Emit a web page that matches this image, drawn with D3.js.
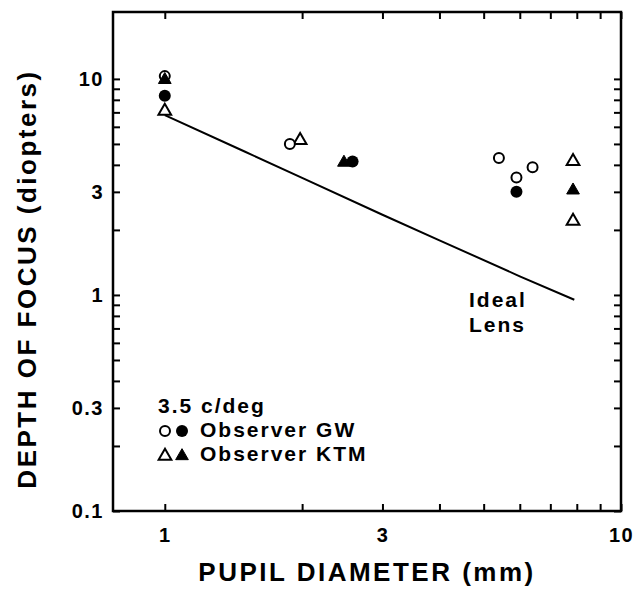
<!DOCTYPE html>
<html>
<head>
<meta charset="utf-8">
<script src="https://cdn.jsdelivr.net/npm/d3@7"></script>
<style>
  html, body { margin: 0; padding: 0; background: #fff; }
  svg { display: block; font-family: "Liberation Sans", Arial, Helvetica, sans-serif; }
  .tick line { stroke: #000; stroke-width: 2; }
  .tick text { font-size: 20px; font-weight: bold; fill: #000; letter-spacing: 1.5px; }
</style>
</head>
<body>
<div id="chart"></div>
<script>
// values (pupil diameter in mm, depth of focus in diopters)
const gwOpenX = [1.0, 1.88, 5.4, 5.9, 6.4]
const gwOpenY = [10.3, 5.0, 4.3, 3.5, 3.9]
const gwFilledX = [1.0, 2.58, 5.9]
const gwFilledY = [8.35, 4.15, 3.0]
const ktmOpenX = [1.0, 1.98, 7.85, 7.85]
const ktmOpenY = [7.1, 5.2, 4.15, 2.2]
const ktmFilledX = [1.0, 2.47, 7.85]
const ktmFilledY = [9.9, 4.1, 3.05]
const lensX = [1.0, 1.5, 2, 3, 4, 6, 7.9]
const lensY = [6.8, 4.6, 3.48, 2.35, 1.79, 1.22, 0.95]

const xTickLabels = [1, 3, 10]
const yTickLabels = [0.1, 0.3, 1, 3, 10]
const legendTitle = '3.5 c/deg'
const legendNames = ['Observer GW', 'Observer KTM']

const width = 639
const height = 591
const plotLeft = 113, plotRight = 621, plotTop = 12, plotBottom = 511

const svg = d3.select('#chart').append('svg')
  .attr('width', width)
  .attr('height', height)

const x = d3.scaleLog().domain([0.77, 10]).range([plotLeft, plotRight])
const y = d3.scaleLog().domain([0.1, 20.4]).range([plotBottom, plotTop])

const xTicks = x.ticks().filter(d => d >= 1 && d <= 10)
const yTicks = y.ticks().filter(d => d <= 10)

// axes, ticks pointing inwards on all four sides
svg.append('g')
  .attr('transform', `translate(0,${plotBottom})`)
  .call(d3.axisBottom(x).tickValues(xTicks).tickSizeInner(-7).tickSizeOuter(0).tickPadding(14)
    .tickFormat(d => xTickLabels.includes(d) ? d : ''))
  .call(g => g.select('.domain').remove())
  .selectAll('text').attr('dy', '0.85em')

svg.append('g')
  .attr('transform', `translate(0,${plotTop})`)
  .call(d3.axisTop(x).tickValues(xTicks).tickSizeInner(-7).tickSizeOuter(0).tickFormat(''))
  .call(g => g.select('.domain').remove())

svg.append('g')
  .attr('transform', `translate(${plotLeft},0)`)
  .call(d3.axisLeft(y).tickValues(yTicks).tickSizeInner(-7).tickSizeOuter(0).tickPadding(9)
    .tickFormat(d => yTickLabels.includes(d) ? d : ''))
  .call(g => g.select('.domain').remove())

svg.append('g')
  .attr('transform', `translate(${plotRight},0)`)
  .call(d3.axisRight(y).tickValues(yTicks).tickSizeInner(-7).tickSizeOuter(0).tickFormat(''))
  .call(g => g.select('.domain').remove())

svg.append('rect')
  .attr('x', plotLeft).attr('y', plotTop)
  .attr('width', plotRight - plotLeft).attr('height', plotBottom - plotTop)
  .attr('fill', 'none').attr('stroke', '#000').attr('stroke-width', 2.5)

// axis titles
svg.append('text')
  .attr('x', (plotLeft + plotRight) / 2)
  .attr('y', 581)
  .attr('text-anchor', 'middle')
  .style('font-size', '26px').style('font-weight', 'bold').style('letter-spacing', '2.5px')
  .text('PUPIL DIAMETER (mm)')

svg.append('text')
  .attr('transform', 'translate(36,279) rotate(-90)')
  .attr('text-anchor', 'middle')
  .style('font-size', '26px').style('font-weight', 'bold').style('letter-spacing', '2.5px')
  .text('DEPTH OF FOCUS (diopters)')

// ideal lens curve
const line = d3.line().x(d => x(d[0])).y(d => y(d[1]))
svg.append('path')
  .datum(d3.zip(lensX, lensY))
  .attr('d', line)
  .attr('fill', 'none').attr('stroke', '#000').attr('stroke-width', 2)

svg.append('text').attr('x', 469).attr('y', 307)
  .style('font-size', '21px').style('font-weight', 'bold').style('letter-spacing', '2px')
  .text('Ideal')
svg.append('text').attr('x', 469).attr('y', 332)
  .style('font-size', '21px').style('font-weight', 'bold').style('letter-spacing', '2px')
  .text('Lens')

// markers
const tri = d3.symbol().type(d3.symbolTriangle).size(70)

const drawCircles = (xs, ys, filled) => {
  svg.append('g').selectAll('circle')
    .data(d3.zip(xs, ys))
    .join('circle')
    .attr('cx', d => x(d[0])).attr('cy', d => y(d[1]))
    .attr('r', filled ? 6 : 5)
    .attr('fill', filled ? '#000' : '#fff')
    .attr('stroke', filled ? 'none' : '#000').attr('stroke-width', 2)
}

const drawTriangles = (xs, ys, filled) => {
  svg.append('g').selectAll('path')
    .data(d3.zip(xs, ys))
    .join('path')
    .attr('d', tri)
    .attr('transform', d => `translate(${x(d[0])},${y(d[1])})`)
    .attr('fill', filled ? '#000' : '#fff')
    .attr('stroke', '#000').attr('stroke-width', filled ? 1 : 2)
}

drawTriangles(ktmOpenX, ktmOpenY, false)
drawCircles(gwFilledX, gwFilledY, true)
drawCircles(gwOpenX, gwOpenY, false)
drawTriangles(ktmFilledX, ktmFilledY, true)

// legend
svg.append('text').attr('x', 158).attr('y', 413)
  .style('font-size', '21px').style('font-weight', 'bold').style('letter-spacing', '2px')
  .text(legendTitle)

const legend = svg.append('g')
legend.append('circle').attr('cx', 165).attr('cy', 431).attr('r', 5)
  .attr('fill', '#fff').attr('stroke', '#000').attr('stroke-width', 2)
legend.append('circle').attr('cx', 182).attr('cy', 431).attr('r', 6).attr('fill', '#000')
legend.append('path').attr('d', tri).attr('transform', 'translate(165,456)')
  .attr('fill', '#fff').attr('stroke', '#000').attr('stroke-width', 2)
legend.append('path').attr('d', tri).attr('transform', 'translate(182,456)')
  .attr('fill', '#000').attr('stroke', '#000').attr('stroke-width', 1)

legend.selectAll('text')
  .data(legendNames)
  .join('text')
  .attr('x', 200).attr('y', (d, i) => 437 + i * 24)
  .style('font-size', '21px').style('font-weight', 'bold').style('letter-spacing', '2px')
  .text(d => d)
</script>
</body>
</html>
